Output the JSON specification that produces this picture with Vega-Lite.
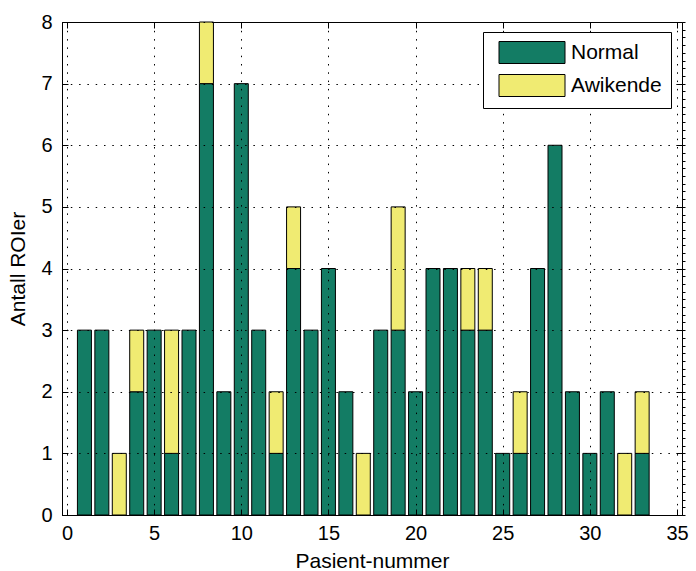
{
  "$schema": "https://vega.github.io/schema/vega-lite/v6.json",
  "width": 620,
  "height": 493,
  "autosize": {"type": "none"},
  "padding": {"left": 62, "top": 22, "right": 14, "bottom": 56},
  "background": "#ffffff",
  "config": {
    "view": {"stroke": "#000000", "strokeWidth": 1},
    "font": "Liberation Sans",
    "axis": {
      "labelFont": "Liberation Sans",
      "titleFont": "Liberation Sans",
      "labelColor": "#000000",
      "titleColor": "#000000",
      "labelFontSize": 20,
      "titleFontSize": 21,
      "titleFontWeight": "normal",
      "domainColor": "#000000",
      "tickColor": "#000000",
      "gridColor": "#000000",
      "gridOpacity": 1,
      "gridDash": [1.5, 6.8],
      "gridWidth": 1
    }
  },
  "data": {
    "values": [
      {"p": 1, "type": "Normal", "n": 3},
      {"p": 2, "type": "Normal", "n": 3},
      {"p": 3, "type": "Awikende", "n": 1},
      {"p": 4, "type": "Normal", "n": 2},
      {"p": 4, "type": "Awikende", "n": 1},
      {"p": 5, "type": "Normal", "n": 3},
      {"p": 6, "type": "Normal", "n": 1},
      {"p": 6, "type": "Awikende", "n": 2},
      {"p": 7, "type": "Normal", "n": 3},
      {"p": 8, "type": "Normal", "n": 7},
      {"p": 8, "type": "Awikende", "n": 1},
      {"p": 9, "type": "Normal", "n": 2},
      {"p": 10, "type": "Normal", "n": 7},
      {"p": 11, "type": "Normal", "n": 3},
      {"p": 12, "type": "Normal", "n": 1},
      {"p": 12, "type": "Awikende", "n": 1},
      {"p": 13, "type": "Normal", "n": 4},
      {"p": 13, "type": "Awikende", "n": 1},
      {"p": 14, "type": "Normal", "n": 3},
      {"p": 15, "type": "Normal", "n": 4},
      {"p": 16, "type": "Normal", "n": 2},
      {"p": 17, "type": "Awikende", "n": 1},
      {"p": 18, "type": "Normal", "n": 3},
      {"p": 19, "type": "Normal", "n": 3},
      {"p": 19, "type": "Awikende", "n": 2},
      {"p": 20, "type": "Normal", "n": 2},
      {"p": 21, "type": "Normal", "n": 4},
      {"p": 22, "type": "Normal", "n": 4},
      {"p": 23, "type": "Normal", "n": 3},
      {"p": 23, "type": "Awikende", "n": 1},
      {"p": 24, "type": "Normal", "n": 3},
      {"p": 24, "type": "Awikende", "n": 1},
      {"p": 25, "type": "Normal", "n": 1},
      {"p": 26, "type": "Normal", "n": 1},
      {"p": 26, "type": "Awikende", "n": 1},
      {"p": 27, "type": "Normal", "n": 4},
      {"p": 28, "type": "Normal", "n": 6},
      {"p": 29, "type": "Normal", "n": 2},
      {"p": 30, "type": "Normal", "n": 1},
      {"p": 31, "type": "Normal", "n": 2},
      {"p": 32, "type": "Awikende", "n": 1},
      {"p": 33, "type": "Normal", "n": 1},
      {"p": 33, "type": "Awikende", "n": 1}
    ]
  },
  "resolve": {"axis": {"x": "independent", "y": "independent"}},
  "layer": [
    {
      "mark": {"type": "bar", "width": 14, "stroke": "#000000", "strokeWidth": 1, "opacity": 1},
      "encoding": {
        "x": {
          "field": "p",
          "type": "quantitative",
          "scale": {"domain": [0, 35], "nice": false, "zero": false},
          "axis": {
            "orient": "bottom",
            "values": [0, 5, 10, 15, 20, 25, 30, 35],
            "grid": true,
            "tickSize": -6,
            "labelPadding": 14,
            "title": "Pasient-nummer",
            "titlePadding": 7,
            "zindex": 1
          }
        },
        "y": {
          "field": "n",
          "type": "quantitative",
          "stack": "zero",
          "scale": {"domain": [0, 8], "nice": false},
          "axis": {
            "orient": "left",
            "values": [0, 1, 2, 3, 4, 5, 6, 7, 8],
            "grid": true,
            "tickSize": -6,
            "labelPadding": 16,
            "title": "Antall ROIer",
            "titlePadding": 12,
            "zindex": 1
          }
        },
        "color": {
          "field": "type",
          "type": "nominal",
          "scale": {"domain": ["Normal", "Awikende"], "range": ["#137c64", "#f0eb72"]},
          "legend": {
            "title": null,
            "orient": "none",
            "legendX": 421,
            "legendY": 10,
            "zindex": 3,
            "fillColor": "#ffffff",
            "strokeColor": "#000000",
            "padding": 9,
            "symbolType": "M-0.409,-1H5.591V1H-0.409Z",
            "symbolSize": 484,
            "symbolStrokeColor": "#000000",
            "symbolStrokeWidth": 1,
            "symbolOpacity": 1,
            "labelFont": "Liberation Sans",
            "labelFontSize": 21,
            "labelColor": "#000000",
            "labelOffset": 56,
            "rowPadding": 6
          }
        },
        "order": {"field": "type", "sort": "descending"}
      }
    },
    {
      "mark": {"type": "point", "opacity": 0},
      "encoding": {
        "x": {
          "field": "p",
          "type": "quantitative",
          "scale": {"domain": [0, 35], "nice": false, "zero": false},
          "axis": {
            "orient": "top",
            "values": [0, 5, 10, 15, 20, 25, 30, 35],
            "labels": false,
            "grid": false,
            "tickSize": -6,
            "title": null,
            "domain": false
          }
        },
        "y": {
          "field": "n",
          "type": "quantitative",
          "scale": {"domain": [0, 8], "nice": false},
          "axis": {
            "orient": "right",
            "values": [0, 1, 2, 3, 4, 5, 6, 7, 8],
            "labels": false,
            "grid": false,
            "tickSize": -6,
            "title": null,
            "domain": false
          }
        }
      }
    },
    {
      "mark": {"type": "point", "opacity": 0},
      "encoding": {
        "y": {
          "field": "n",
          "type": "quantitative",
          "scale": {"domain": [0, 8], "nice": false},
          "axis": {
            "orient": "right",
            "values": [0, 0.125, 0.25, 0.375, 0.5, 0.625, 0.75, 0.875, 1, 1.125, 1.25, 1.375, 1.5, 1.625, 1.75, 1.875, 2, 2.125, 2.25, 2.375, 2.5, 2.625, 2.75, 2.875, 3, 3.125, 3.25, 3.375, 3.5, 3.625, 3.75, 3.875, 4, 4.125, 4.25, 4.375, 4.5, 4.625, 4.75, 4.875, 5, 5.125, 5.25, 5.375, 5.5, 5.625, 5.75, 5.875, 6, 6.125, 6.25, 6.375, 6.5, 6.625, 6.75, 6.875, 7, 7.125, 7.25, 7.375, 7.5, 7.625, 7.75, 7.875, 8],
            "labels": false,
            "grid": false,
            "tickSize": 3,
            "title": null,
            "domain": false
          }
        }
      }
    }
  ]
}
